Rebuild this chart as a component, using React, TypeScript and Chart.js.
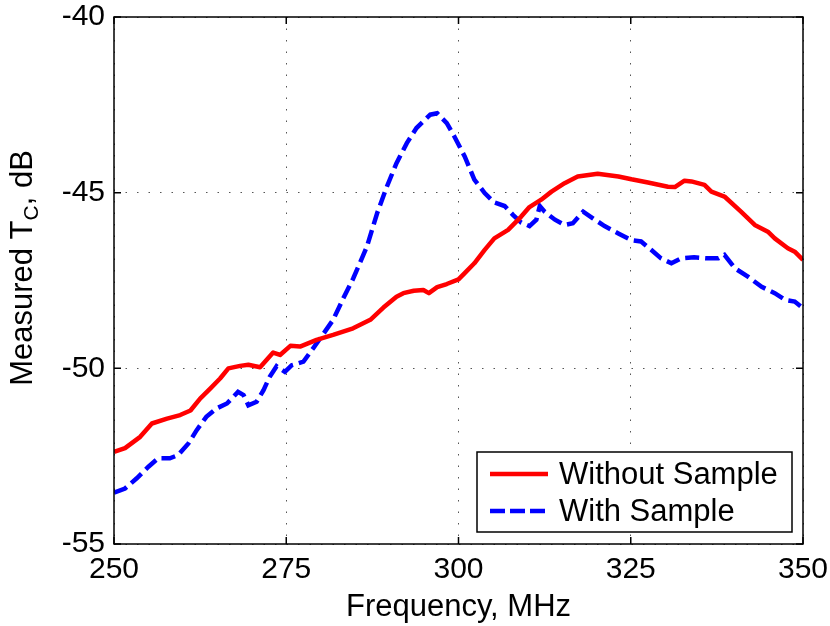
import { useEffect, useRef } from "react";
import { Chart, registerables, type ChartConfiguration, type Plugin } from "chart.js";

Chart.register(...registerables);

// MHz / dB
const redFreq = [
  250.0, 251.6, 253.8, 255.5, 257.7, 259.6, 261.1, 262.5, 264.0, 265.4, 266.6, 268.3, 269.5, 271.2,
  273.1, 274.1, 275.6, 277.0, 279.4, 281.8, 284.7, 287.2, 289.1, 291.0, 292.0, 293.5, 294.9, 295.7,
  296.9, 298.3, 300.0, 300.9, 302.3, 303.8, 305.2, 307.2, 309.1, 310.3, 312.0, 313.5, 315.4, 317.3,
  320.2, 323.2, 325.1, 327.5, 330.4, 331.4, 332.8, 333.8, 335.7, 336.7, 338.6, 341.0, 343.0, 344.9,
  345.9, 347.8, 348.8, 350.0,
];
const redLevel = [
  -52.38, -52.27, -51.95, -51.57, -51.43, -51.33, -51.2, -50.86, -50.57, -50.29, -50.0, -49.93, -49.9, -49.97,
  -49.55, -49.62, -49.36, -49.38, -49.19, -49.05, -48.86, -48.62, -48.27, -47.96, -47.86, -47.79, -47.77, -47.86,
  -47.69, -47.6, -47.47, -47.29, -47.01, -46.63, -46.3, -46.06, -45.68, -45.41, -45.2, -44.97, -44.73, -44.54,
  -44.46, -44.54, -44.62, -44.71, -44.83, -44.84, -44.66, -44.68, -44.78, -44.97, -45.11, -45.54, -45.92, -46.11,
  -46.3, -46.58, -46.68, -46.91,
];

const blueFreq = [
  250.0, 251.6, 253.3, 255.0, 256.4, 258.1, 259.3, 260.8, 262.0, 263.4, 264.9, 266.4, 268.0, 268.8,
  269.5, 270.7, 271.7, 272.6, 273.6, 274.8, 275.8, 277.5, 278.9, 280.1, 281.8, 283.3, 284.7, 286.7,
  288.2, 289.6, 291.0, 292.5, 293.9, 295.9, 296.9, 298.3, 299.4, 300.9, 302.3, 303.8, 305.2, 306.7,
  307.9, 309.1, 310.3, 311.3, 311.8, 312.5, 314.0, 315.4, 316.6, 318.1, 319.5, 321.2, 323.2, 325.1,
  326.5, 328.0, 329.4, 330.9, 332.3, 334.2, 336.2, 337.7, 338.6, 340.1, 342.0, 344.0, 345.9, 347.4,
  348.8, 350.0,
];
const blueLevel = [
  -53.54, -53.42, -53.13, -52.8, -52.56, -52.56, -52.47, -52.14, -51.76, -51.38, -51.14, -51.0, -50.67, -50.76,
  -51.05, -50.95, -50.62, -50.24, -49.94, -50.1, -49.91, -49.81, -49.43, -49.1, -48.62, -48.0, -47.45, -46.54,
  -45.58, -44.83, -44.16, -43.59, -43.16, -42.78, -42.74, -43.02, -43.4, -43.97, -44.63, -45.01, -45.28, -45.38,
  -45.63, -45.85, -45.95, -45.77, -45.38, -45.54, -45.77, -45.92, -45.87, -45.54, -45.73, -45.95, -46.16, -46.35,
  -46.39, -46.63, -46.87, -47.01, -46.87, -46.84, -46.87, -46.87, -46.77, -47.15, -47.39, -47.68, -47.86, -48.05,
  -48.1, -48.29,
];

const freqTicks = [250, 275, 300, 325, 350];
const levelTicks = [-55, -50, -45, -40];

const seriesNames = ["Without Sample", "With Sample"];
const seriesColors = ["#ff0000", "#0000ff"];
const dashPattern = [14, 6];

const FONT = '"Liberation Sans", Arial, Helvetica, sans-serif';

// box, inward ticks, axis titles and the boxed legend, MATLAB style
const framePlugin: Plugin<"line"> = {
  id: "frame",
  afterDraw(chart) {
    const { ctx, chartArea } = chart;
    const { left, right, top, bottom } = chartArea;
    const xScale = chart.scales.x;
    const yScale = chart.scales.y;

    ctx.save();
    ctx.strokeStyle = "#000";
    ctx.lineWidth = 1.5;
    ctx.strokeRect(left, top, right - left, bottom - top);

    const tick = 7;
    ctx.beginPath();
    for (const v of freqTicks) {
      const px = xScale.getPixelForValue(v);
      ctx.moveTo(px, bottom);
      ctx.lineTo(px, bottom - tick);
      ctx.moveTo(px, top);
      ctx.lineTo(px, top + tick);
    }
    for (const v of levelTicks) {
      const py = yScale.getPixelForValue(v);
      ctx.moveTo(left, py);
      ctx.lineTo(left + tick, py);
      ctx.moveTo(right, py);
      ctx.lineTo(right - tick, py);
    }
    ctx.stroke();

    // x title
    ctx.fillStyle = "#000";
    ctx.font = `31px ${FONT}`;
    ctx.textAlign = "center";
    ctx.textBaseline = "alphabetic";
    ctx.fillText("Frequency, MHz", (left + right) / 2, 616);

    // y title with subscript C
    ctx.save();
    ctx.translate(32, 268);
    ctx.rotate(-Math.PI / 2);
    ctx.textAlign = "left";
    const mainFont = `31px ${FONT}`;
    const subFont = `21px ${FONT}`;
    ctx.font = mainFont;
    const partA = "Measured T";
    const partC = ", dB";
    const wA = ctx.measureText(partA).width;
    const wC = ctx.measureText(partC).width;
    ctx.font = subFont;
    const wB = ctx.measureText("C").width;
    let x0 = -(wA + wB + wC) / 2;
    ctx.font = mainFont;
    ctx.fillText(partA, x0, 0);
    x0 += wA;
    ctx.font = subFont;
    ctx.fillText("C", x0, 6);
    x0 += wB;
    ctx.font = mainFont;
    ctx.fillText(partC, x0, 0);
    ctx.restore();

    // legend
    const lx = 477;
    const ly = 452;
    const lw = 315;
    const lh = 80;
    ctx.fillStyle = "#fff";
    ctx.fillRect(lx, ly, lw, lh);
    ctx.strokeStyle = "#000";
    ctx.lineWidth = 1.5;
    ctx.strokeRect(lx, ly, lw, lh);

    const rows = [474, 511];
    seriesNames.forEach((name, i) => {
      ctx.beginPath();
      ctx.strokeStyle = seriesColors[i];
      ctx.lineWidth = 4.5;
      ctx.setLineDash(i === 1 ? [15, 5] : []);
      ctx.moveTo(490, rows[i]);
      ctx.lineTo(548, rows[i]);
      ctx.stroke();
      ctx.setLineDash([]);
      ctx.fillStyle = "#000";
      ctx.font = `31px ${FONT}`;
      ctx.textAlign = "left";
      ctx.textBaseline = "middle";
      ctx.fillText(name, 559, rows[i] + 1);
    });
    ctx.restore();
  },
};

export default function App() {
  const canvasRef = useRef<HTMLCanvasElement | null>(null);

  useEffect(() => {
    const canvas = canvasRef.current;
    if (!canvas) {
      return;
    }

    const configuration: ChartConfiguration<"line"> = {
      type: "line",
      data: {
        datasets: [
          {
            label: seriesNames[0],
            data: redFreq.map((f, i) => ({ x: f, y: redLevel[i] })),
            borderColor: seriesColors[0],
            backgroundColor: seriesColors[0],
            borderWidth: 4.5,
            pointRadius: 0,
            tension: 0,
            borderJoinStyle: "round",
          },
          {
            label: seriesNames[1],
            data: blueFreq.map((f, i) => ({ x: f, y: blueLevel[i] })),
            borderColor: seriesColors[1],
            backgroundColor: seriesColors[1],
            borderWidth: 4.5,
            borderDash: dashPattern,
            pointRadius: 0,
            tension: 0,
          },
        ],
      },
      options: {
        responsive: true,
        maintainAspectRatio: false,
        animation: false,
        layout: {
          padding: { left: 0, top: 17, right: 27, bottom: 0 },
        },
        plugins: {
          legend: { display: false },
          tooltip: { enabled: false },
        },
        scales: {
          x: {
            type: "linear",
            min: 250,
            max: 350,
            afterBuildTicks(scale) {
              scale.ticks = freqTicks.map((value) => ({ value }));
            },
            afterFit(scale) {
              scale.height = 82;
              scale.paddingLeft = 0;
              scale.paddingRight = 0;
            },
            border: { display: false, dash: [1.5, 10] },
            grid: {
              color: "#555",
              lineWidth: 1,
              drawTicks: false,
            },
            ticks: {
              color: "#000",
              padding: 8,
              maxRotation: 0,
              font: { family: FONT, size: 30 },
            },
          },
          y: {
            type: "linear",
            min: -55,
            max: -40,
            afterBuildTicks(scale) {
              scale.ticks = levelTicks.map((value) => ({ value }));
            },
            afterFit(scale) {
              scale.width = 114;
              scale.paddingTop = 0;
              scale.paddingBottom = 0;
            },
            border: { display: false, dash: [1.5, 10] },
            grid: {
              color: "#555",
              lineWidth: 1,
              drawTicks: false,
            },
            ticks: {
              color: "#000",
              padding: 9,
              font: { family: FONT, size: 30 },
            },
          },
        },
      },
      plugins: [framePlugin],
    };

    const chart = new Chart(canvas, configuration);
    return () => {
      chart.destroy();
    };
  }, []);

  return (
    <div style={{ position: "absolute", left: 0, top: 0, width: 830, height: 626, background: "#fff" }}>
      <canvas ref={canvasRef} aria-label="Measured Tc versus frequency" role="img" />
    </div>
  );
}
